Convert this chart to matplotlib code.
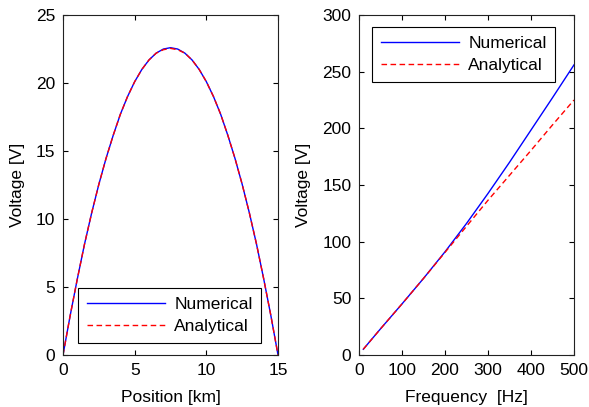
import matplotlib
matplotlib.use("Agg")
import matplotlib.pyplot as plt

plt.rcParams["font.family"] = ["Liberation Sans", "DejaVu Sans"]
plt.rcParams["font.size"] = 12.5

# -----------------------------
# Data
# -----------------------------
position_km = [0, 0.5, 1, 1.5, 2, 2.5, 3, 3.5, 4, 4.5, 5, 5.5, 6, 6.5, 7,
               7.5, 8, 8.5, 9, 9.5, 10, 10.5, 11, 11.5, 12, 12.5, 13, 13.5,
               14, 14.5, 15]
voltage_num_pos = [0, 2.9, 5.6, 8.15, 10.45, 12.55, 14.45, 16.15, 17.7,
                   19.0, 20.1, 21.0, 21.7, 22.2, 22.5, 22.6, 22.5, 22.2,
                   21.7, 21.0, 20.1, 19.0, 17.7, 16.15, 14.45, 12.55, 10.45,
                   8.15, 5.6, 2.9, 0]
voltage_ana_pos = [0, 2.9, 5.6, 8.15, 10.45, 12.55, 14.45, 16.15, 17.7,
                   19.0, 20.1, 21.0, 21.7, 22.2, 22.45, 22.55, 22.45, 22.2,
                   21.7, 21.0, 20.1, 19.0, 17.7, 16.15, 14.45, 12.55, 10.45,
                   8.15, 5.6, 2.9, 0]

freq_hz = [10, 50, 100, 150, 200, 250, 300, 350, 400, 450, 500]
voltage_num_freq = [5, 23, 45, 67.5, 91, 116, 142.5, 170, 198.5, 227, 256]
voltage_ana_freq = [5, 23, 45, 67.5, 90.5, 113.5, 136.5, 158.5, 180.5, 203, 225]

# -----------------------------
# Figure
# -----------------------------
fig = plt.figure(figsize=(5.89, 4.07), dpi=100)
ax1 = fig.add_axes([0.107, 0.128, 0.365, 0.835])
ax2 = fig.add_axes([0.6095, 0.128, 0.365, 0.835])

blue = "#0000ff"
red = "#ff0000"
leg_kw = dict(borderaxespad=0, fancybox=False, edgecolor="black",
              framealpha=1, handlelength=4.5, handletextpad=0.55,
              labelspacing=0.4, borderpad=0.5)

ax1.plot(position_km, voltage_num_pos, color=blue, lw=1.0, label="Numerical")
ax1.plot(position_km, voltage_ana_pos, color=red, lw=1.0, ls=(0, (4, 2.5)),
         label="Analytical")
ax1.set_xlim(0, 15)
ax1.set_ylim(0, 25)
ax1.set_xticks([0, 5, 10, 15])
ax1.set_yticks([0, 5, 10, 15, 20, 25])
ax1.set_xlabel("Position [km]", labelpad=9)
ax1.set_ylabel("Voltage [V]", labelpad=8)
ax1.legend(loc="lower left", bbox_to_anchor=(0.07, 0.035), **leg_kw)

ax2.plot(freq_hz, voltage_num_freq, color=blue, lw=1.0, label="Numerical")
ax2.plot(freq_hz, voltage_ana_freq, color=red, lw=1.0, ls=(0, (4, 2.5)),
         label="Analytical")
ax2.set_xlim(0, 500)
ax2.set_ylim(0, 300)
ax2.set_xticks([0, 100, 200, 300, 400, 500])
ax2.set_yticks([0, 50, 100, 150, 200, 250, 300])
ax2.set_xlabel("Frequency  [Hz]", labelpad=9)
ax2.set_ylabel("Voltage [V]", labelpad=8)
ax2.legend(loc="upper left", bbox_to_anchor=(0.06, 0.965), **leg_kw)

for ax in (ax1, ax2):
    ax.tick_params(direction="in", length=3.5, width=0.8, top=True,
                   right=True, labelsize=12.5, pad=5.5)
    for s in ax.spines.values():
        s.set_linewidth(0.8)
        s.set_color("#222222")
    ax.legend_.get_frame().set_linewidth(0.8)

fig.savefig("out.png", dpi=100)
